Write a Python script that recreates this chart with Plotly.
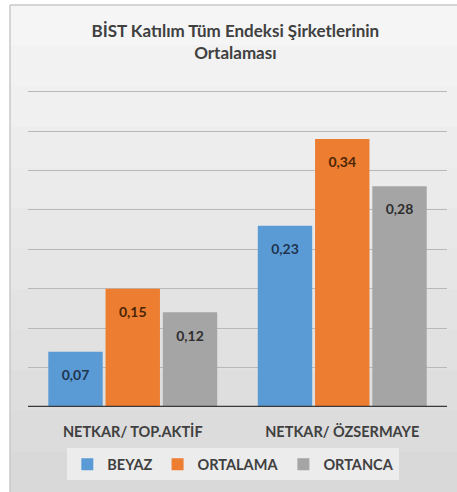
import plotly.graph_objects as go

categories = ["NETKAR/ TOP.AKTİF", "NETKAR/ ÖZSERMAYE"]
series_names = ["BEYAZ", "ORTALAMA", "ORTANCA"]
beyaz = [0.07, 0.23]
ortalama = [0.15, 0.34]
ortanca = [0.12, 0.28]
title_text = "BİST Katılım Tüm Endeksi Şirketlerinin<br>Ortalaması"

colors = ["#5b9bd5", "#ed7d31", "#a5a5a5"]
label_colors = ["#1f3550", "#4a2505", "#2e2e2e"]

W, H = 457, 492
ML, MR, MT, MB = 28, 10, 90, 85
font_family = "Lato, 'Open Sans', sans-serif"

fig = go.Figure()
for name, vals, c, lc in zip(series_names, [beyaz, ortalama, ortanca], colors, label_colors):
    fig.add_trace(go.Bar(
        x=categories, y=vals, name=name,
        marker=dict(color=c, line=dict(width=0)),
        texttemplate="<sub>\u00a0</sub><br>%{y:.2f}",
        textposition="inside", insidetextanchor="end",
        textfont=dict(color=lc, size=14, family=font_family, weight="bold"),
    ))

pw, ph = W - ML - MR, H - MT - MB
def px_to_paper_x(px):
    return (px - ML) / pw
def px_to_paper_y(py):
    return (H - MB - py) / ph

x0p, y0p = 10, 5

# chart-area background: vertical gradient approximated by bands
shapes = []
n = 12
top_v, bot_v = 245, 217
for i in range(n):
    t = i / (n - 1)
    v = int(round(top_v + (bot_v - top_v) * t))
    ya = y0p + (H - y0p) * i / n
    yb = y0p + (H - y0p) * (i + 1) / n + (3 if i == n - 1 else 1)
    shapes.append(dict(type="rect", xref="paper", yref="paper", layer="below",
                       x0=px_to_paper_x(x0p), x1=px_to_paper_x(W + 3),
                       y0=px_to_paper_y(yb), y1=px_to_paper_y(ya),
                       fillcolor="#%02x%02x%02x" % (v, v, v), line=dict(width=0)))
shapes += [
    # white outer margins (top and left)
    dict(type="rect", xref="paper", yref="paper", layer="below",
         x0=px_to_paper_x(-3), x1=px_to_paper_x(W + 3),
         y0=px_to_paper_y(y0p), y1=px_to_paper_y(-3),
         fillcolor="white", line=dict(width=0)),
    dict(type="rect", xref="paper", yref="paper", layer="below",
         x0=px_to_paper_x(-3), x1=px_to_paper_x(x0p),
         y0=px_to_paper_y(H + 3), y1=px_to_paper_y(-3),
         fillcolor="white", line=dict(width=0)),
    # chart-area border
    dict(type="line", xref="paper", yref="paper", layer="below",
         x0=px_to_paper_x(x0p), x1=px_to_paper_x(x0p),
         y0=px_to_paper_y(H + 3), y1=px_to_paper_y(y0p),
         line=dict(color="#c8c8c8", width=1.5)),
    dict(type="line", xref="paper", yref="paper", layer="below",
         x0=px_to_paper_x(x0p), x1=px_to_paper_x(W + 3),
         y0=px_to_paper_y(y0p), y1=px_to_paper_y(y0p),
         line=dict(color="#c8c8c8", width=1.5)),
    # category axis baseline
    dict(type="line", xref="paper", yref="y", layer="above",
         x0=0, x1=1, y0=0, y1=0, line=dict(color="#3a3a3a", width=2.5)),
]

fig.update_layout(
    width=W, height=H,
    margin=dict(l=ML, r=MR, t=MT, b=MB),
    paper_bgcolor="#e6e6e6", plot_bgcolor="rgba(0,0,0,0)",
    separators=", ",
    barmode="group", bargap=0.18, bargroupgap=0.05,
    shapes=shapes,
    title=dict(text=title_text, x=0.515, xanchor="center", y=0.925, yanchor="top",
               font=dict(size=17, color="#404040", family=font_family, weight="bold"),
               pad=dict(t=0, b=0)),
    xaxis=dict(showgrid=False, showline=False, zeroline=False, ticks="",
               ticklabelstandoff=14,
               tickfont=dict(size=14.5, color="#404040", family=font_family, weight="bold")),
    yaxis=dict(range=[0, 0.402], dtick=0.05, showgrid=True, gridcolor="#b8b8b8", gridwidth=1,
               zeroline=False, showticklabels=False, showline=False, ticks=""),
    legend=dict(orientation="h", x=0.49, xanchor="center", y=-0.13, yanchor="top",
                bgcolor="#ececec", borderwidth=0,
                font=dict(size=14.5, color="#404040", family=font_family, weight="bold"),
                itemwidth=30, traceorder="normal"),
    showlegend=True,
)

fig.write_html("out.html")
